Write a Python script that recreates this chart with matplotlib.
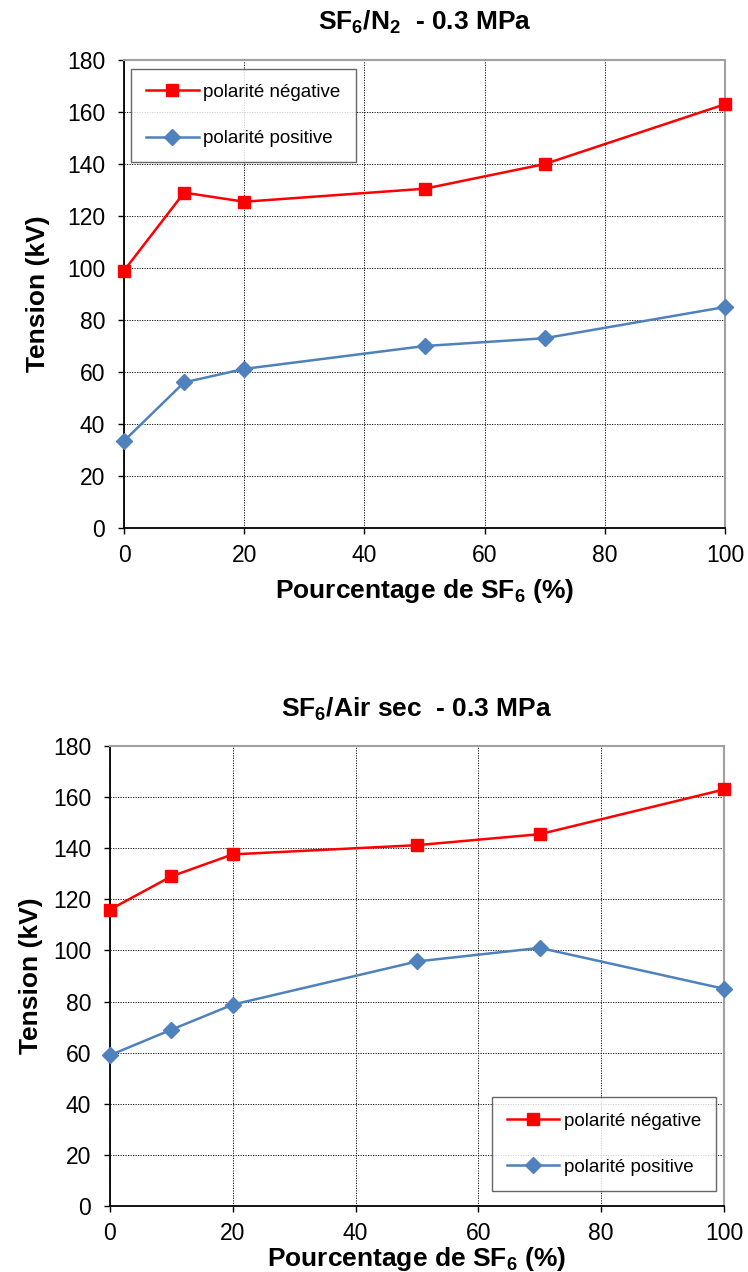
import matplotlib
matplotlib.use("Agg")
import matplotlib.pyplot as plt

plt.rcParams['font.family'] = ['Liberation Sans', 'DejaVu Sans']
plt.rcParams['mathtext.fontset'] = 'custom'
plt.rcParams['mathtext.rm'] = 'Liberation Sans'
plt.rcParams['mathtext.bf'] = 'Liberation Sans:bold'

# SF6 percentage
pct = [0, 10, 20, 50, 70, 100]

# SF6/N2 - 0.3 MPa
n2_neg = [99, 129, 125.5, 130.5, 140, 163]
n2_pos = [33.5, 56, 61.2, 70, 73, 85]

# SF6/Air sec - 0.3 MPa
air_neg = [116, 129, 137.6, 141.2, 145.5, 163]
air_pos = [59, 69, 78.8, 95.7, 101, 85]

titles = [r"$\mathbf{SF_6/N_2}$  - 0.3 MPa", r"$\mathbf{SF_6}$/Air sec  - 0.3 MPa"]
xlabel = r"Pourcentage de $\mathbf{SF_6}$ (%)"
ylabel = "Tension (kV)"
neg_label = "polarité négative"
pos_label = "polarité positive"

fig = plt.figure(figsize=(7.48, 12.72), dpi=100)
ax1 = fig.add_axes([0.1658, 0.5849, 0.8035, 0.3679])
ax2 = fig.add_axes([0.147, 0.0519, 0.821, 0.3616])


def style(ax, neg, pos, title, legend_loc, legend_anchor, tpad, xpad, ypad):
    ax.plot(pct, neg, color='#ff0000', lw=1.8, marker='s', ms=9,
            label=neg_label, zorder=3, clip_on=False)
    ax.plot(pct, pos, color='#4f81bd', lw=1.8, marker='D', ms=8.5,
            label=pos_label, zorder=3, clip_on=False)
    ax.set_xlim(0, 100)
    ax.set_ylim(0, 180)
    ax.set_xticks(range(0, 101, 20))
    ax.set_yticks(range(0, 181, 20))
    ax.grid(True, color='black', linestyle=(0, (1.5, 1.5)), lw=0.6)
    ax.set_axisbelow(True)
    for s in ['top', 'right']:
        ax.spines[s].set_color('#a0a0a0')
        ax.spines[s].set_linewidth(1.5)
    for s in ['left', 'bottom']:
        ax.spines[s].set_color('black')
        ax.spines[s].set_linewidth(1.3)
    ax.tick_params(direction='out', length=4.5, width=1, labelsize=16.5)
    ax.tick_params(axis='y', pad=9)
    ax.tick_params(axis='x', pad=7)
    ax.set_xlabel(xlabel, fontsize=19, fontweight='bold', labelpad=xpad)
    ax.set_ylabel(ylabel, fontsize=19, fontweight='bold', labelpad=ypad)
    ax.set_title(title, fontsize=19, fontweight='bold', pad=tpad)
    leg = ax.legend(loc=legend_loc, bbox_to_anchor=legend_anchor, prop={'size': 13.5},
                    frameon=True, fancybox=False, edgecolor='#404040',
                    labelspacing=1.55, borderpad=0.8, handlelength=2.8,
                    handletextpad=0.25, borderaxespad=0)
    leg.get_frame().set_linewidth(1.0)


style(ax1, n2_neg, n2_pos, titles[0], 'upper left', (0.012, 0.981), 22, 7, 12)
style(ax2, air_neg, air_pos, titles[1], 'lower right', (0.987, 0.033), 21, 0, 7)

fig.savefig("out.png", dpi=100)
